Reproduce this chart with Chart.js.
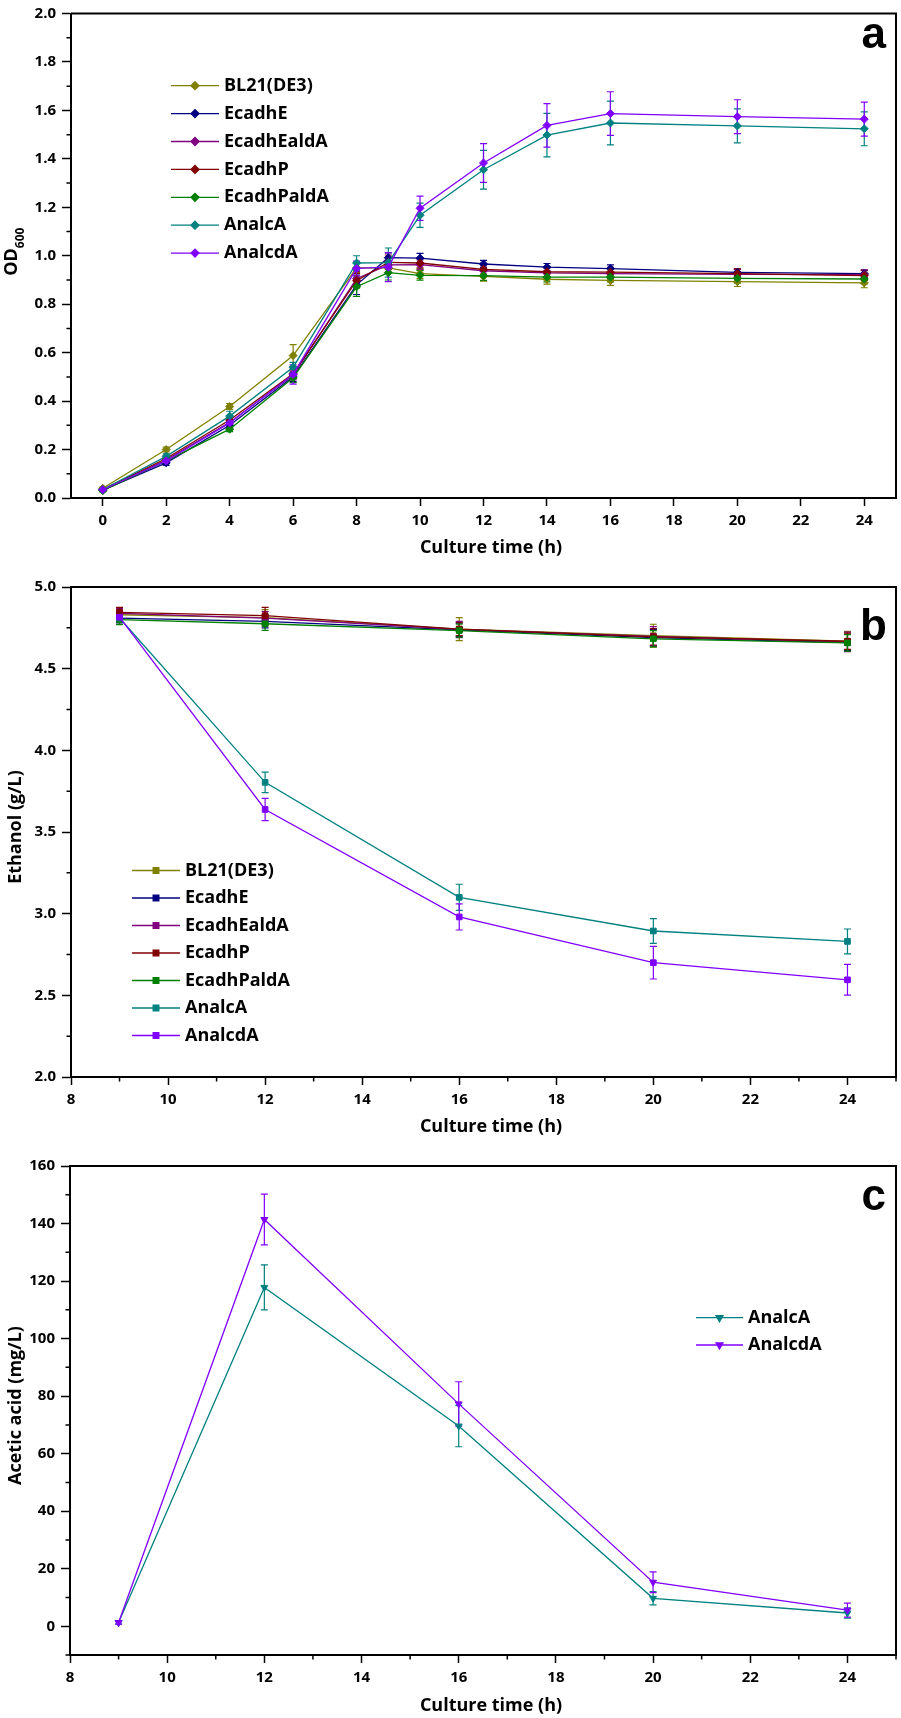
<!DOCTYPE html>
<html><head><meta charset="utf-8">
<script src="https://cdn.jsdelivr.net/npm/chart.js@4.4.1/dist/chart.umd.min.js"></script>
<style>
html,body{margin:0;padding:0;background:#fff;}
#wrap{position:relative;width:901px;height:1718px;background:#fff;}
canvas{position:absolute;left:0;}
</style></head><body>
<div id="wrap">
<canvas id="ca" width="901" height="566" style="top:0px"></canvas>
<canvas id="cb" width="901" height="579" style="top:566px"></canvas>
<canvas id="cc" width="901" height="573" style="top:1145px"></canvas>
</div>
<script>
// ---------------- data ----------------
const strainNames  = ['BL21(DE3)','EcadhE','EcadhEaldA','EcadhP','EcadhPaldA','AnalcA','AnalcdA'];
const strainColors = ['#808000','#000080','#800080','#800000','#008000','#008080','#8000ff'];

// panel a: OD600
const timeOD = [0,2,4,6,8,9,10,12,14,16,20,24];
const odBL21       = [0.040,0.200,0.378,0.588,0.950,0.950,0.926,0.915,0.903,0.898,0.893,0.888];
const odEcadhE     = [0.032,0.145,0.300,0.500,0.880,0.992,0.990,0.966,0.953,0.947,0.931,0.926];
const odEcadhEaldA = [0.033,0.158,0.312,0.508,0.905,0.962,0.963,0.938,0.929,0.926,0.923,0.922];
const odEcadhP     = [0.035,0.163,0.322,0.513,0.897,0.973,0.970,0.944,0.934,0.932,0.926,0.918];
const odEcadhPaldA = [0.030,0.153,0.284,0.496,0.872,0.930,0.919,0.918,0.912,0.912,0.907,0.904];
const odAnalcA     = [0.035,0.172,0.338,0.540,0.970,0.972,1.167,1.355,1.498,1.548,1.536,1.524];
const odAnalcdA    = [0.034,0.153,0.310,0.510,0.948,0.953,1.196,1.383,1.538,1.587,1.574,1.564];
const odErrBL21       = [0.005,0.010,0.012,0.045,0.020,0.020,0.020,0.020,0.020,0.020,0.020,0.020];
const odErrEcadhE     = [0.005,0.010,0.010,0.020,0.040,0.020,0.020,0.015,0.015,0.015,0.015,0.015];
const odErrEcadhEaldA = [0.005,0.010,0.010,0.020,0.030,0.030,0.020,0.020,0.020,0.020,0.020,0.020];
const odErrEcadhP     = [0.005,0.010,0.010,0.020,0.030,0.030,0.020,0.020,0.020,0.020,0.020,0.020];
const odErrEcadhPaldA = [0.005,0.010,0.010,0.020,0.040,0.030,0.020,0.020,0.020,0.020,0.020,0.020];
const odErrAnalcA     = [0.005,0.010,0.020,0.020,0.030,0.060,0.050,0.080,0.090,0.090,0.070,0.070];
const odErrAnalcdA    = [0.005,0.010,0.010,0.040,0.030,0.060,0.050,0.080,0.090,0.090,0.070,0.070];
const odTicksX = [0,2,4,6,8,10,12,14,16,18,20,22,24];
const odTicksY = [0.0,0.2,0.4,0.6,0.8,1.0,1.2,1.4,1.6,1.8,2.0];
const odMinorY = [0.1,0.3,0.5,0.7,0.9,1.1,1.3,1.5,1.7,1.9];

// panel b: ethanol
const timeEth = [9,12,16,20,24];
const ethBL21       = [4.830,4.812,4.742,4.702,4.668];
const ethEcadhE     = [4.810,4.790,4.738,4.690,4.660];
const ethEcadhEaldA = [4.838,4.810,4.740,4.698,4.664];
const ethEcadhP     = [4.845,4.825,4.742,4.695,4.668];
const ethEcadhPaldA = [4.800,4.775,4.733,4.683,4.658];
const ethAnalcA     = [4.810,3.804,3.100,2.894,2.830];
const ethAnalcdA    = [4.815,3.638,2.980,2.700,2.595];
const ethErrBL21       = [0.030,0.050,0.070,0.070,0.060];
const ethErrEcadhE     = [0.030,0.040,0.040,0.050,0.050];
const ethErrEcadhEaldA = [0.030,0.040,0.050,0.060,0.060];
const ethErrEcadhP     = [0.030,0.050,0.040,0.050,0.050];
const ethErrEcadhPaldA = [0.030,0.040,0.040,0.050,0.050];
const ethErrAnalcA     = [0.020,0.063,0.080,0.076,0.076];
const ethErrAnalcdA    = [0.020,0.068,0.080,0.100,0.094];
const ethTicksX = [8,10,12,14,16,18,20,22,24];
const ethMinorX = [9,11,13,15,17,19,21,23,25];
const ethTicksY = [2.0,2.5,3.0,3.5,4.0,4.5,5.0];
const ethMinorY = [2.25,2.75,3.25,3.75,4.25,4.75];

// panel c: acetic acid
const acNames  = ['AnalcA','AnalcdA'];
const acColors = ['#008080','#8000ff'];
const timeAc = [9,12,16,20,24];
const acAnalcA  = [1.3,117.8,69.6,9.7,4.6];
const acAnalcdA = [1.3,141.4,77.3,15.3,5.6];
const acErrAnalcA  = [0.6,7.8,7.2,2.3,1.8];
const acErrAnalcdA = [0.6,8.8,7.7,3.6,2.4];
const acTicksX = [8,10,12,14,16,18,20,22,24];
const acMinorX = [9,11,13,15,17,19,21,23,25];
const acTicksY = [0,20,40,60,80,100,120,140,160];
const acMinorY = [-10,10,30,50,70,90,110,130,150];

// ---------------- drawing ----------------
const FONT = '"Open Sans", "DejaVu Sans", sans-serif';
const BLACK = '#000';

function drawMarker(ctx, style, rot, r, x, y) {
  if (Chart.helpers && Chart.helpers.drawPoint) {
    Chart.helpers.drawPoint(ctx, {pointStyle: style, rotation: rot, radius: r, borderWidth: 1}, x, y);
  }
}

const decor = {
  id: 'decor',
  beforeDatasetsDraw(chart, args, o) {
    const ctx = chart.ctx, xs = chart.scales.x, ys = chart.scales.y;
    ctx.save();
    chart.data.datasets.forEach(ds => {
      if (!ds.errors) return;
      ctx.strokeStyle = ds.borderColor;
      ctx.lineWidth = 1.2;
      ds.data.forEach((p, j) => {
        const e = ds.errors[j];
        const px = xs.getPixelForValue(p.x);
        const y1 = ys.getPixelForValue(p.y + e), y2 = ys.getPixelForValue(p.y - e);
        const c = o.cap;
        ctx.beginPath();
        ctx.moveTo(px, y1); ctx.lineTo(px, y2);
        ctx.moveTo(px - c, y1); ctx.lineTo(px + c, y1);
        ctx.moveTo(px - c, y2); ctx.lineTo(px + c, y2);
        ctx.stroke();
      });
    });
    ctx.restore();
  },
  afterDraw(chart, args, o) {
    const ctx = chart.ctx, a = chart.chartArea, xs = chart.scales.x, ys = chart.scales.y;
    ctx.save();
    // frame (top & right)
    ctx.strokeStyle = BLACK; ctx.lineWidth = 2;
    ctx.beginPath();
    ctx.moveTo(a.left, a.top); ctx.lineTo(a.right, a.top); ctx.lineTo(a.right, a.bottom);
    ctx.stroke();
    // minor ticks
    ctx.lineWidth = 1.5;
    ctx.beginPath();
    (o.minorX || []).forEach(v => { const px = xs.getPixelForValue(v); ctx.moveTo(px, a.bottom); ctx.lineTo(px, a.bottom + 4.5); });
    (o.minorY || []).forEach(v => { const py = ys.getPixelForValue(v); ctx.moveTo(a.left, py); ctx.lineTo(a.left - 4.5, py); });
    ctx.stroke();
    // x title
    ctx.fillStyle = BLACK;
    ctx.font = 'bold 18px ' + FONT;
    ctx.textAlign = 'center'; ctx.textBaseline = 'middle';
    ctx.fillText(o.xTitle, o.xTitleX, a.bottom + o.xTitleDy);
    // y title (rotated)
    ctx.save();
    ctx.translate(o.yTitleX, (a.top + a.bottom) / 2 + o.yTitleDy);
    ctx.rotate(-Math.PI / 2);
    ctx.textBaseline = 'alphabetic';
    let total = 0;
    o.yTitle.forEach(part => { ctx.font = 'bold ' + part.size + 'px ' + FONT; total += ctx.measureText(part.text).width; });
    let cx = -total / 2;
    o.yTitle.forEach(part => {
      ctx.font = 'bold ' + part.size + 'px ' + FONT;
      ctx.textAlign = 'left';
      ctx.fillText(part.text, cx, part.drop || 0);
      cx += ctx.measureText(part.text).width;
    });
    ctx.restore();
    // panel letter
    ctx.font = 'bold 44px "Liberation Sans", Arial, sans-serif';
    ctx.textAlign = 'right'; ctx.textBaseline = 'alphabetic';
    ctx.fillText(o.letter, o.letterX, a.top + o.letterDy);
    // legend
    const L = o.legend;
    chart.data.datasets.forEach((ds, i) => {
      const y = L.y0 + i * L.dy;
      ctx.strokeStyle = ds.borderColor; ctx.fillStyle = ds.backgroundColor; ctx.lineWidth = 1.3;
      ctx.beginPath(); ctx.moveTo(L.x1, y); ctx.lineTo(L.x2, y); ctx.stroke();
      drawMarker(ctx, ds.pointStyle, ds.pointRotation || 0, ds.pointRadius, (L.x1 + L.x2) / 2, y);
      ctx.fillStyle = BLACK;
      ctx.font = 'bold ' + L.size + 'px ' + FONT;
      ctx.textAlign = 'left'; ctx.textBaseline = 'middle';
      ctx.fillText(ds.label, L.tx, y);
    });
    ctx.restore();
  }
};

function axisX(min, max, ticks, height) {
  return {
    type: 'linear', min: min, max: max, bounds: 'data',
    afterBuildTicks: s => { s.ticks = ticks.map(v => ({value: v})); },
    afterFit: s => { s.height = height; },
    grid: {display: true, drawOnChartArea: false, drawTicks: true, tickLength: 8, tickWidth: 1.5, tickColor: BLACK, color: BLACK},
    border: {display: true, color: BLACK, width: 2},
    ticks: {autoSkip: false, maxRotation: 0, minRotation: 0, padding: 7, color: BLACK,
            font: {family: FONT, size: 15, weight: 'bold', lineHeight: 1},
            callback: v => String(v)}
  };
}
function axisY(min, max, ticks, width, fmt) {
  return {
    type: 'linear', min: min, max: max, bounds: 'data',
    afterBuildTicks: s => { s.ticks = ticks.map(v => ({value: v})); },
    afterFit: s => { s.width = width; },
    grid: {display: true, drawOnChartArea: false, drawTicks: true, tickLength: 9, tickWidth: 1.5, tickColor: BLACK, color: BLACK},
    border: {display: true, color: BLACK, width: 2},
    ticks: {autoSkip: false, padding: 6, color: BLACK,
            font: {family: FONT, size: 15, weight: 'bold', lineHeight: 1},
            callback: fmt}
  };
}

function makeChart(id, cfg) {
  const n = cfg.series.length;
  return new Chart(document.getElementById(id), {
    type: 'line',
    data: {
      datasets: cfg.series.map((s, i) => ({
        label: s.name,
        data: cfg.x.map((t, j) => ({x: t, y: s.y[j]})),
        errors: s.err,
        borderColor: s.color, backgroundColor: s.color,
        pointBackgroundColor: s.color, pointBorderColor: s.color,
        borderWidth: 1.3, pointRadius: cfg.pointRadius, pointStyle: cfg.pointStyle,
        pointRotation: cfg.pointRotation || 0, pointBorderWidth: 1,
        tension: 0, fill: false, order: n - i, clip: false
      }))
    },
    options: {
      responsive: false, animation: false, devicePixelRatio: 1, events: [],
      layout: {padding: cfg.padding},
      scales: {x: cfg.xAxis, y: cfg.yAxis},
      plugins: {legend: {display: false}, tooltip: {enabled: false}, decor: cfg.decor}
    },
    plugins: [decor]
  });
}

const odSeries = [odBL21, odEcadhE, odEcadhEaldA, odEcadhP, odEcadhPaldA, odAnalcA, odAnalcdA];
const odErrs = [odErrBL21, odErrEcadhE, odErrEcadhEaldA, odErrEcadhP, odErrEcadhPaldA, odErrAnalcA, odErrAnalcdA];
const ethSeries = [ethBL21, ethEcadhE, ethEcadhEaldA, ethEcadhP, ethEcadhPaldA, ethAnalcA, ethAnalcdA];
const ethErrs = [ethErrBL21, ethErrEcadhE, ethErrEcadhEaldA, ethErrEcadhP, ethErrEcadhPaldA, ethErrAnalcA, ethErrAnalcdA];
const acSeries = [acAnalcA, acAnalcdA];
const acErrs = [acErrAnalcA, acErrAnalcdA];

makeChart('ca', {
  x: timeOD,
  series: strainNames.map((nm, i) => ({name: nm, color: strainColors[i], y: odSeries[i], err: odErrs[i]})),
  pointStyle: 'rectRot', pointRadius: 4,
  padding: {top: 9, right: 4, left: 0, bottom: 0},
  xAxis: axisX(-1, 25, odTicksX, 68),
  yAxis: axisY(0, 2, odTicksY, 71, v => v.toFixed(1)),
  decor: {cap: 3.5, minorX: [], minorY: odMinorY,
          xTitle: 'Culture time (h)', xTitleX: 491, xTitleDy: 50,
          yTitle: [{text: 'OD', size: 18}, {text: '600', size: 12, drop: 7}], yTitleX: 17, yTitleDy: -4,
          letter: 'a', letterX: 886, letterDy: 34.5,
          legend: {x1: 171, x2: 219, tx: 224, y0: 85.7, dy: 27.9, size: 18}}
});

makeChart('cb', {
  x: timeEth,
  series: strainNames.map((nm, i) => ({name: nm, color: strainColors[i], y: ethSeries[i], err: ethErrs[i]})),
  pointStyle: 'rect', pointRadius: 4,
  padding: {top: 21, right: 4, left: 0, bottom: 0},
  xAxis: axisX(8, 25, ethTicksX, 68),
  yAxis: axisY(2, 5, ethTicksY, 71, v => v.toFixed(1)),
  decor: {cap: 3.5, minorX: ethMinorX, minorY: ethMinorY,
          xTitle: 'Culture time (h)', xTitleX: 491, xTitleDy: 50,
          yTitle: [{text: 'Ethanol (g/L)', size: 18}], yTitleX: 20.5, yTitleDy: -5,
          letter: 'b', letterX: 887, letterDy: 53,
          legend: {x1: 132, x2: 180, tx: 185, y0: 304.5, dy: 27.5, size: 18}}
});

makeChart('cc', {
  x: timeAc,
  series: acNames.map((nm, i) => ({name: nm, color: acColors[i], y: acSeries[i], err: acErrs[i]})),
  pointStyle: 'triangle', pointRotation: 180, pointRadius: 4,
  padding: {top: 21, right: 5, left: 0, bottom: 0},
  xAxis: axisX(8, 25, acTicksX, 63),
  yAxis: axisY(-10, 160, acTicksY, 70, v => String(v)),
  decor: {cap: 3.5, minorX: acMinorX, minorY: acMinorY,
          xTitle: 'Culture time (h)', xTitleX: 491, xTitleDy: 51,
          yTitle: [{text: 'Acetic acid (mg/L)', size: 18}], yTitleX: 20.5, yTitleDy: -5,
          letter: 'c', letterX: 886, letterDy: 43.5,
          legend: {x1: 696, x2: 743, tx: 748, y0: 172.6, dy: 27.4, size: 18}}
});
</script>
</body></html>
